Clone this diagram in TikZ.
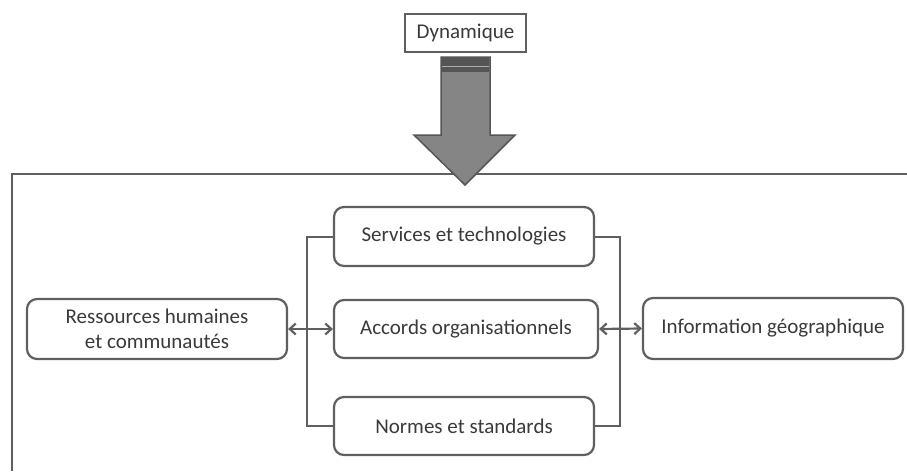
\documentclass[tikz,border=0pt]{standalone}
\usepackage{fontspec}
\setmainfont{Carlito}
\usetikzlibrary{arrows.meta}
\definecolor{linec}{HTML}{5F5F5F}
\definecolor{textc}{HTML}{3A3A3A}
\definecolor{arrfill}{HTML}{858585}
\definecolor{arrdark}{HTML}{555555}
\tikzset{
  box/.style={draw=linec, line width=2.2pt, rounded corners=10pt, fill=white, text=textc, font=\fontsize{21}{25}\selectfont, align=center, inner sep=0pt},
  conn/.style={draw=linec, line width=2.2pt},
  dbl/.style={draw=linec, line width=2.2pt, {Straight Barb[length=6pt,width=11pt,line width=2.2pt]}-{Straight Barb[length=6pt,width=11pt,line width=2.2pt]}},
}
\begin{document}
\begin{tikzpicture}[x=1pt,y=-1pt]
\useasboundingbox (0,0) rectangle (907,471);
% frame
\draw[conn] (12,471) -- (12,174) -- (907,174);
% big arrow
\fill[arrfill, draw=arrdark, line width=1.5pt] (441,57) -- (490,57) -- (490,135) -- (515,135) -- (465,185) -- (414,135) -- (441,135) -- cycle;
\fill[arrdark] (442,58) rectangle (489,72);
\draw[arrfill!70!white, line width=1pt] (442,66) -- (489,66);
% Dynamique
\node[draw=linec, line width=1.2pt, fill=white, text=textc, font=\fontsize{21}{25}\selectfont, minimum width=121pt, minimum height=38pt, inner sep=0pt] (dyn) at (465.5,33) {Dynamique};
% boxes
\node[box, minimum width=260pt, minimum height=60pt] (rh) at (157,329) {Ressources humaines\\ et communautés};
\node[box, minimum width=260pt, minimum height=59pt] (st) at (464,236.5) {Services et technologies};
\node[box, minimum width=264pt, minimum height=58pt] (ao) at (466,329) {Accords organisationnels};
\node[box, minimum width=260pt, minimum height=58pt] (ns) at (464,426) {Normes et standards};
\node[box, minimum width=260pt, minimum height=61pt] (ig) at (773,328.5) {Information géographique};
% brackets
\coordinate (bl1) at (307,237);
\coordinate (bl2) at (307,426);
\coordinate (br1) at (620,237);
\coordinate (br2) at (620,426);
\draw[conn] (st.west |- bl1) -- (bl1) -- (bl2) -- (ns.west |- bl2);
\draw[conn] (st.east |- br1) -- (br1) -- (br2) -- (ns.east |- br2);
% double arrows
\draw[dbl] (rh.east) -- (ao.west);
\draw[dbl] (ao.east) -- (ig.west);
\end{tikzpicture}
\end{document}
